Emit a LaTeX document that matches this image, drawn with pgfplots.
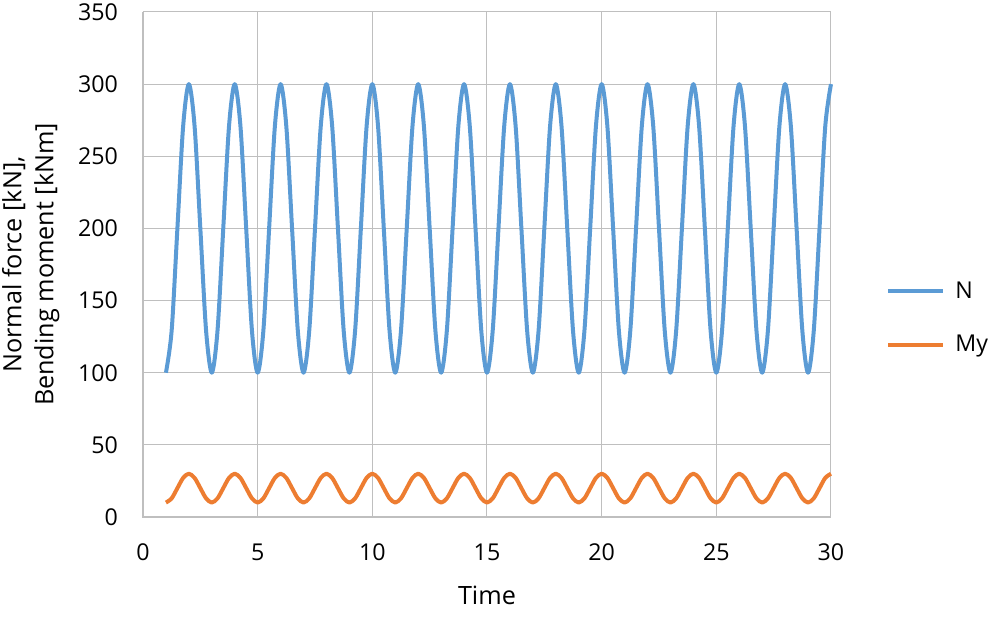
\documentclass[border=0pt]{standalone}
\usepackage{fontspec}
\setmainfont{Open Sans}
\usepackage{pgfplots}
\usepackage{pgfplotstable}
\pgfplotsset{compat=1.18}
\definecolor{cN}{RGB}{91,155,213}
\definecolor{cM}{RGB}{237,125,49}
\definecolor{grid}{RGB}{217,217,217}
\definecolor{axl}{RGB}{191,191,191}
\newcommand\f{\fontsize{11.6}{16}\selectfont}
\newcommand\ft{\fontsize{12.6}{16}\selectfont}
\pgfplotstableread{
t N My
1 100 10
1.25 129.3 12.93
1.5 200 20
1.75 270.7 27.07
2 300 30
2.25 270.7 27.07
2.5 200 20
2.75 129.3 12.93
3 100 10
3.25 129.3 12.93
3.5 200 20
3.75 270.7 27.07
4 300 30
4.25 270.7 27.07
4.5 200 20
4.75 129.3 12.93
5 100 10
5.25 129.3 12.93
5.5 200 20
5.75 270.7 27.07
6 300 30
6.25 270.7 27.07
6.5 200 20
6.75 129.3 12.93
7 100 10
7.25 129.3 12.93
7.5 200 20
7.75 270.7 27.07
8 300 30
8.25 270.7 27.07
8.5 200 20
8.75 129.3 12.93
9 100 10
9.25 129.3 12.93
9.5 200 20
9.75 270.7 27.07
10 300 30
10.25 270.7 27.07
10.5 200 20
10.75 129.3 12.93
11 100 10
11.25 129.3 12.93
11.5 200 20
11.75 270.7 27.07
12 300 30
12.25 270.7 27.07
12.5 200 20
12.75 129.3 12.93
13 100 10
13.25 129.3 12.93
13.5 200 20
13.75 270.7 27.07
14 300 30
14.25 270.7 27.07
14.5 200 20
14.75 129.3 12.93
15 100 10
15.25 129.3 12.93
15.5 200 20
15.75 270.7 27.07
16 300 30
16.25 270.7 27.07
16.5 200 20
16.75 129.3 12.93
17 100 10
17.25 129.3 12.93
17.5 200 20
17.75 270.7 27.07
18 300 30
18.25 270.7 27.07
18.5 200 20
18.75 129.3 12.93
19 100 10
19.25 129.3 12.93
19.5 200 20
19.75 270.7 27.07
20 300 30
20.25 270.7 27.07
20.5 200 20
20.75 129.3 12.93
21 100 10
21.25 129.3 12.93
21.5 200 20
21.75 270.7 27.07
22 300 30
22.25 270.7 27.07
22.5 200 20
22.75 129.3 12.93
23 100 10
23.25 129.3 12.93
23.5 200 20
23.75 270.7 27.07
24 300 30
24.25 270.7 27.07
24.5 200 20
24.75 129.3 12.93
25 100 10
25.25 129.3 12.93
25.5 200 20
25.75 270.7 27.07
26 300 30
26.25 270.7 27.07
26.5 200 20
26.75 129.3 12.93
27 100 10
27.25 129.3 12.93
27.5 200 20
27.75 270.7 27.07
28 300 30
28.25 270.7 27.07
28.5 200 20
28.75 129.3 12.93
29 100 10
29.25 129.3 12.93
29.5 200 20
29.75 270.7 27.07
30 300 30
}\data
\begin{document}
\begin{tikzpicture}
\path[use as bounding box] (0,0) rectangle (496.5pt,310pt);
\begin{axis}[
  at={(71.5pt,51.5pt)}, anchor=south west,
  scale only axis, width=344pt, height=252.5pt,
  xmin=0, xmax=30, ymin=0, ymax=350,
  xtick={0,5,...,30}, ytick={0,50,...,350},
  major tick length=0pt,
  grid=major, grid style={grid, line width=0.5pt},
  axis line style={draw=none},
  axis x line*=bottom, axis y line*=left,
  /pgf/number format/assume math mode=true,
  tick label style={font=\f, text=black},
  xticklabel style={yshift=-10pt},
  yticklabel style={xshift=-9pt},
  xlabel={Time},
  ylabel={Normal force [kN],\\Bending moment [kNm]},
  every axis x label/.style={at={(axis description cs:0.5,-0.156)}, anchor=center, font=\ft},
  every axis y label/.style={at={(axis description cs:-0.163,0.5)}, rotate=90, anchor=center, align=center, font=\ft},
  legend style={at={(axis description cs:1.08,0.475)}, anchor=north west, draw=none, fill=none, font=\f, row sep=13pt, inner sep=0pt, nodes={inner xsep=5pt}},
  legend cell align=left,
  legend image code/.code={\draw[#1] (0pt,0pt) -- (27.5pt,0pt);},
  clip=false,
]
\draw[axl, line width=0.6pt] (axis cs:0,350) -- (axis cs:0,0) -- (axis cs:30,0);
\addplot[cN, line width=2pt, smooth, line join=round] table[x=t, y=N] {\data};
\addlegendentry{N}
\addplot[cM, line width=2pt, smooth, line join=round] table[x=t, y=My] {\data};
\addlegendentry{My}
\end{axis}
\end{tikzpicture}
\end{document}
